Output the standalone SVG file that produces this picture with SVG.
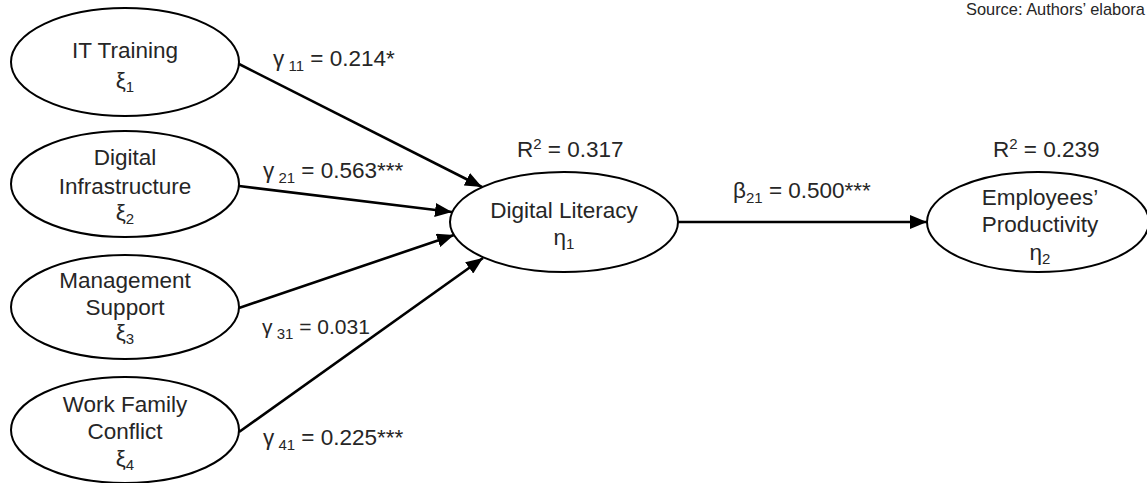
<svg xmlns="http://www.w3.org/2000/svg" width="1147" height="483" viewBox="0 0 1147 483">
<style>
.node ellipse{fill:#fff;stroke:#000;stroke-width:2}
text{font-family:"Liberation Sans",Arial,sans-serif;fill:#262626}
.lbl{font-size:22.5px;text-anchor:middle}
.coef{font-size:22.5px}
.sub{font-size:15px}
.edge{stroke:#000;stroke-width:2.6;fill:none;marker-end:url(#arr)}
</style>
<defs>
<marker id="arr" markerUnits="userSpaceOnUse" markerWidth="17" markerHeight="14" refX="17" refY="7" orient="auto">
<path d="M0,0 L17,7 L0,14 z" fill="#000"/>
</marker>
</defs>
<rect width="1147" height="483" fill="#fff"/>
<text x="966" y="15" font-size="16.4">Source: Authors’ elabora</text>
<g id="connectors">
<line class="edge" x1="239" y1="64" x2="482" y2="187"/>
<line class="edge" x1="239" y1="186" x2="452" y2="212"/>
<line class="edge" x1="239" y1="308" x2="454" y2="235"/>
<line class="edge" x1="239" y1="432" x2="483" y2="258"/>
<line class="edge" x1="678" y1="222" x2="927" y2="222"/>
</g>
<g id="n_it" class="node">
<ellipse cx="125" cy="62" rx="114" ry="54"/>
<text class="lbl" x="125" y="58">IT Training</text>
<text class="lbl" x="125" y="88">ξ<tspan class="sub" dy="4">1</tspan></text>
</g>
<g id="n_di" class="node">
<ellipse cx="125" cy="184" rx="114" ry="53"/>
<text class="lbl" x="125" y="165">Digital</text>
<text class="lbl" x="125" y="194">Infrastructure</text>
<text class="lbl" x="125" y="220">ξ<tspan class="sub" dy="4">2</tspan></text>
</g>
<g id="n_ms" class="node">
<ellipse cx="125" cy="307" rx="114" ry="52"/>
<text class="lbl" x="125" y="288">Management</text>
<text class="lbl" x="125" y="315">Support</text>
<text class="lbl" x="125" y="340">ξ<tspan class="sub" dy="4">3</tspan></text>
</g>
<g id="n_wf" class="node">
<ellipse cx="125" cy="430" rx="114" ry="53"/>
<text class="lbl" x="125" y="412">Work Family</text>
<text class="lbl" x="125" y="439">Conflict</text>
<text class="lbl" x="125" y="466">ξ<tspan class="sub" dy="4">4</tspan></text>
</g>
<g id="n_dl" class="node">
<ellipse cx="564" cy="222" rx="114" ry="50"/>
<text class="lbl" x="564" y="218">Digital Literacy</text>
<text class="lbl" x="564" y="245">η<tspan class="sub" dy="4">1</tspan></text>
</g>
<g id="n_ep" class="node">
<ellipse cx="1038" cy="222" rx="111" ry="50"/>
<text class="lbl" x="1040" y="205">Employees’</text>
<text class="lbl" x="1040" y="232">Productivity</text>
<text class="lbl" x="1040" y="260">η<tspan class="sub" dy="4">2</tspan></text>
</g>
<g id="labels">
<text class="coef" x="273" y="66">γ<tspan class="sub" dy="5"> 11</tspan><tspan dy="-5"> = 0.214*</tspan></text>
<text class="coef" x="263" y="178">γ<tspan class="sub" dy="5"> 21</tspan><tspan dy="-5"> = 0.563***</tspan></text>
<text class="coef" x="262" y="334" style="font-size:21px">γ<tspan class="sub" dy="5"> 31</tspan><tspan dy="-5"> = 0.031</tspan></text>
<text class="coef" x="263" y="445">γ<tspan class="sub" dy="5"> 41</tspan><tspan dy="-5"> = 0.225***</tspan></text>
<text class="coef" x="733" y="198">β<tspan class="sub" dy="5">21</tspan><tspan dy="-5"> = 0.500***</tspan></text>
<text class="coef" x="517" y="157">R<tspan class="sub" dy="-8">2</tspan><tspan dy="8"> = 0.317</tspan></text>
<text class="coef" x="993" y="157">R<tspan class="sub" dy="-8">2</tspan><tspan dy="8"> = 0.239</tspan></text>
</g>
</svg>
